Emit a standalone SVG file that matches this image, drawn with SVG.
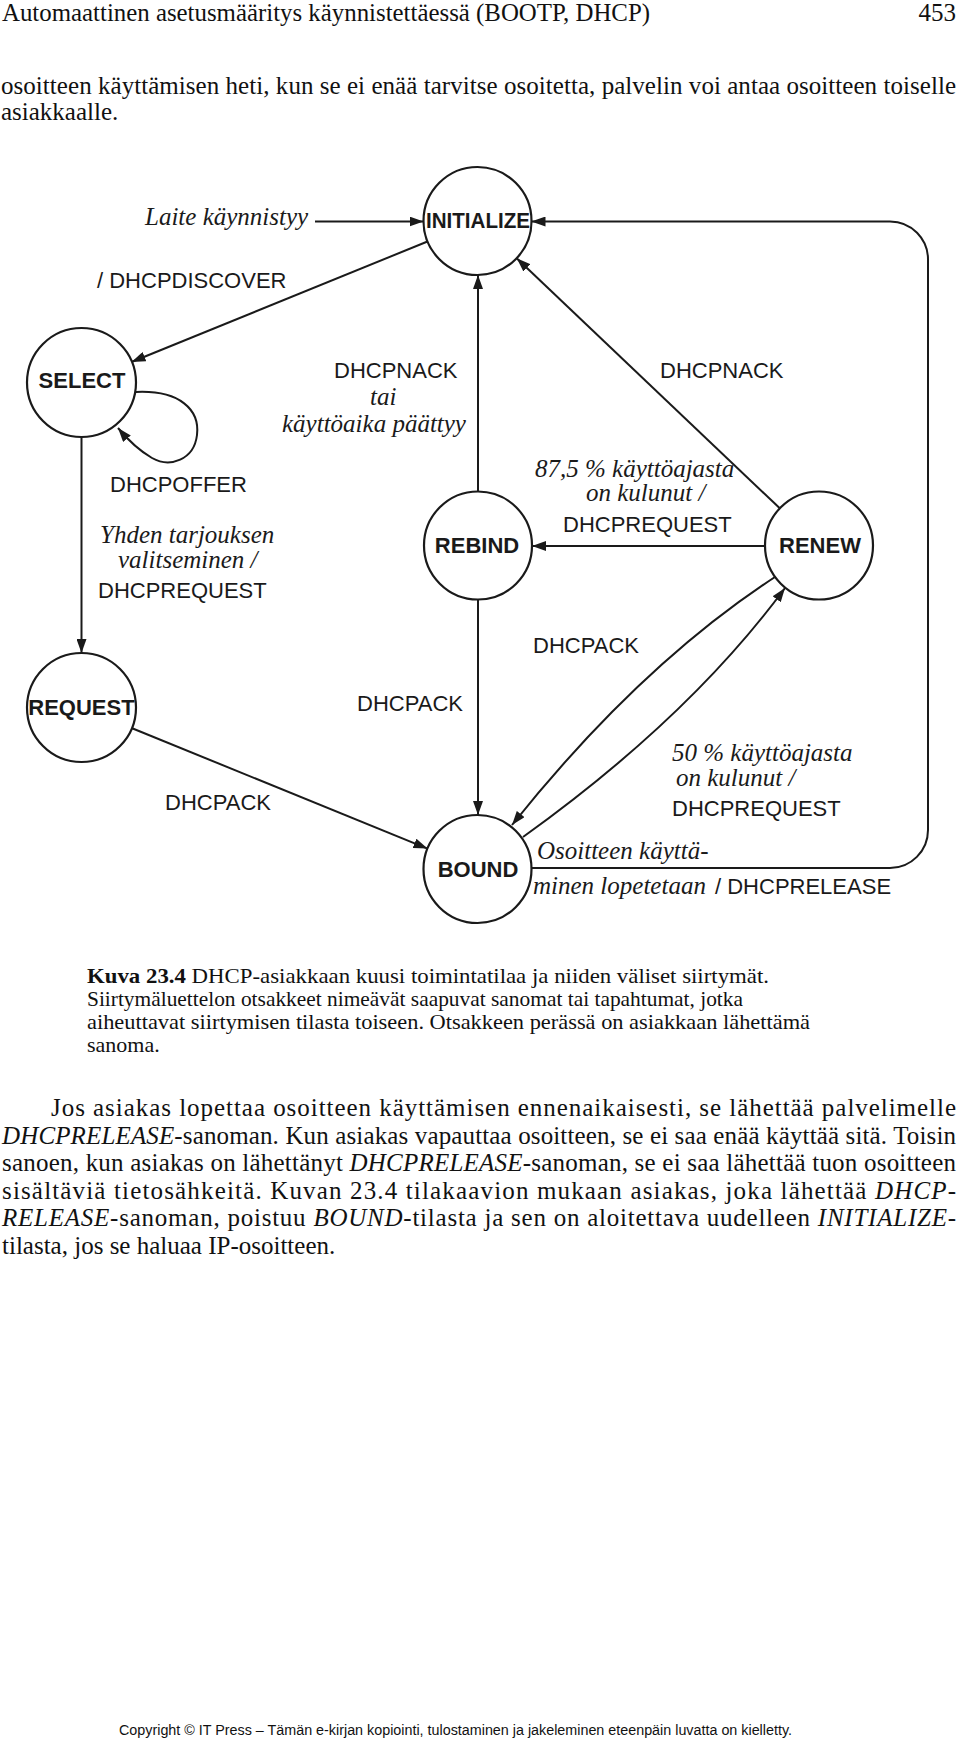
<svg xmlns="http://www.w3.org/2000/svg" width="960" height="1742" viewBox="0 0 960 1742">
<defs>
<marker id="arr" viewBox="0 0 14 10" refX="14" refY="5" markerWidth="14" markerHeight="10" markerUnits="userSpaceOnUse" orient="auto"><path d="M0,0 L14,5 L0,10 z" fill="#1a1a1a"/></marker>
<style>
.node circle{fill:#fff;stroke:#1a1a1a;stroke-width:2.2}
.nl{font-family:"Liberation Sans",Arial,sans-serif;font-weight:bold;font-size:22px;fill:#1a1a1a;text-anchor:middle}
.edge{fill:none;stroke:#1a1a1a;stroke-width:2}
.lbl{font-family:"Liberation Sans",Arial,sans-serif;font-size:22px;fill:#1a1a1a}
.it{font-family:"Liberation Serif","Times New Roman",serif;font-style:italic;font-size:25px;fill:#1a1a1a}
.body{font-family:"Liberation Serif","Times New Roman",serif;font-size:25px;fill:#111}
.cap{font-family:"Liberation Serif","Times New Roman",serif;font-size:22px;fill:#111}
.foot{font-family:"Liberation Sans",Arial,sans-serif;font-size:14px;fill:#111}
.i{font-style:italic}
</style>
</defs>
<rect width="960" height="1742" fill="#fff"/>

<g id="page-text">
<text class="body" x="2" y="21" textLength="648" lengthAdjust="spacingAndGlyphs">Automaattinen asetusmääritys käynnistettäessä (BOOTP, DHCP)</text>
<text class="body" x="956" y="21" text-anchor="end">453</text>
<text class="body" x="1" y="94" textLength="955" lengthAdjust="spacing">osoitteen käyttämisen heti, kun se ei enää tarvitse osoitetta, palvelin voi antaa osoitteen toiselle</text>
<text class="body" x="1" y="120">asiakkaalle.</text>
</g>

<g id="connectors">
<path class="edge" d="M315,221.5 H423.5" marker-end="url(#arr)"/>
<path class="edge" d="M427.5,241.5 L131.5,362" marker-end="url(#arr)"/>
<path class="edge" d="M136,392 C180,390 200,410 197,435 C194,460 170,468 152,458 C140,451 128,440 118,428" marker-end="url(#arr)"/>
<path class="edge" d="M81.5,437 V653" marker-end="url(#arr)"/>
<path class="edge" d="M131.5,728 L427.5,848.6" marker-end="url(#arr)"/>
<path class="edge" d="M478,491.5 V275" marker-end="url(#arr)"/>
<path class="edge" d="M478,599.5 V815" marker-end="url(#arr)"/>
<path class="edge" d="M765,546 H532" marker-end="url(#arr)"/>
<path class="edge" d="M779.8,508.3 L516.7,258.2" marker-end="url(#arr)"/>
<path class="edge" d="M775,577 Q639,666 512,825" marker-end="url(#arr)"/>
<path class="edge" d="M523,837 Q689,718 785,588" marker-end="url(#arr)"/>
<path class="edge" d="M531.5,868 H890 A38,38 0 0 0 928,830 V260 A38,38 0 0 0 890,221.5 H531.5" marker-end="url(#arr)"/>
</g>

<g id="edge-labels">
<text class="it" x="145" y="225">Laite käynnistyy</text>
<text class="lbl" x="97" y="288">/ DHCPDISCOVER</text>
<text class="lbl" x="334" y="378">DHCPNACK</text>
<text class="it" x="370" y="405">tai</text>
<text class="it" x="282" y="432">käyttöaika päättyy</text>
<text class="lbl" x="660" y="378">DHCPNACK</text>
<text class="lbl" x="110" y="492">DHCPOFFER</text>
<text class="it" x="100" y="543">Yhden tarjouksen</text>
<text class="it" x="118" y="568">valitseminen /</text>
<text class="lbl" x="98" y="598">DHCPREQUEST</text>
<text class="it" x="535" y="477">87,5 % käyttöajasta</text>
<text class="it" x="586" y="501">on kulunut /</text>
<text class="lbl" x="563" y="532">DHCPREQUEST</text>
<text class="lbl" x="533" y="653">DHCPACK</text>
<text class="lbl" x="357" y="711">DHCPACK</text>
<text class="lbl" x="165" y="810">DHCPACK</text>
<text class="it" x="672" y="761">50 % käyttöajasta</text>
<text class="it" x="676" y="786">on kulunut /</text>
<text class="lbl" x="672" y="816">DHCPREQUEST</text>
<text class="it" x="537" y="859">Osoitteen käyttä-</text>
<text class="it" x="533" y="894">minen lopetetaan</text>
<text class="lbl" x="715" y="894">/ DHCPRELEASE</text>
</g>

<g id="INITIALIZE" class="node"><circle cx="477.5" cy="221" r="54"/><text class="nl" x="478" y="228" textLength="104" lengthAdjust="spacingAndGlyphs">INITIALIZE</text></g>
<g id="SELECT" class="node"><circle cx="81.5" cy="382.5" r="54.5"/><text class="nl" x="82" y="388">SELECT</text></g>
<g id="REBIND" class="node"><circle cx="478" cy="545.5" r="54"/><text class="nl" x="477" y="553">REBIND</text></g>
<g id="RENEW" class="node"><circle cx="819" cy="545.5" r="54"/><text class="nl" x="820" y="553">RENEW</text></g>
<g id="REQUEST" class="node"><circle cx="81.5" cy="707.5" r="54.5"/><text class="nl" x="81.5" y="715">REQUEST</text></g>
<g id="BOUND" class="node"><circle cx="477.5" cy="869" r="54"/><text class="nl" x="478" y="877">BOUND</text></g>

<g id="caption">
<text class="cap" x="87" y="983" textLength="682" lengthAdjust="spacingAndGlyphs"><tspan font-weight="bold">Kuva 23.4</tspan> DHCP-asiakkaan kuusi toimintatilaa ja niiden väliset siirtymät.</text>
<text class="cap" x="87" y="1006" textLength="656" lengthAdjust="spacingAndGlyphs">Siirtymäluettelon otsakkeet nimeävät saapuvat sanomat tai tapahtumat, jotka</text>
<text class="cap" x="87" y="1029" textLength="723" lengthAdjust="spacingAndGlyphs">aiheuttavat siirtymisen tilasta toiseen. Otsakkeen perässä on asiakkaan lähettämä</text>
<text class="cap" x="87" y="1052">sanoma.</text>
</g>

<g id="body-text">
<text class="body" x="51" y="1116" textLength="905" lengthAdjust="spacing">Jos asiakas lopettaa osoitteen käyttämisen ennenaikaisesti, se lähettää palvelimelle</text>
<text class="body" x="2" y="1143.5" textLength="954" lengthAdjust="spacing"><tspan class="i">DHCPRELEASE</tspan>-sanoman. Kun asiakas vapauttaa osoitteen, se ei saa enää käyttää sitä. Toisin</text>
<text class="body" x="2" y="1171" textLength="954" lengthAdjust="spacing">sanoen, kun asiakas on lähettänyt <tspan class="i">DHCPRELEASE</tspan>-sanoman, se ei saa lähettää tuon osoitteen</text>
<text class="body" x="2" y="1198.5" textLength="954" lengthAdjust="spacing">sisältäviä tietosähkeitä. Kuvan 23.4 tilakaavion mukaan asiakas, joka lähettää <tspan class="i">DHCP-</tspan></text>
<text class="body" x="2" y="1226" textLength="954" lengthAdjust="spacing"><tspan class="i">RELEASE</tspan>-sanoman, poistuu <tspan class="i">BOUND</tspan>-tilasta ja sen on aloitettava uudelleen <tspan class="i">INITIALIZE</tspan>-</text>
<text class="body" x="2" y="1253.5">tilasta, jos se haluaa IP-osoitteen.</text>
</g>

<g id="footer">
<text class="foot" x="119" y="1735" textLength="673" lengthAdjust="spacingAndGlyphs">Copyright © IT Press – Tämän e-kirjan kopiointi, tulostaminen ja jakeleminen eteenpäin luvatta on kielletty.</text>
</g>
</svg>
